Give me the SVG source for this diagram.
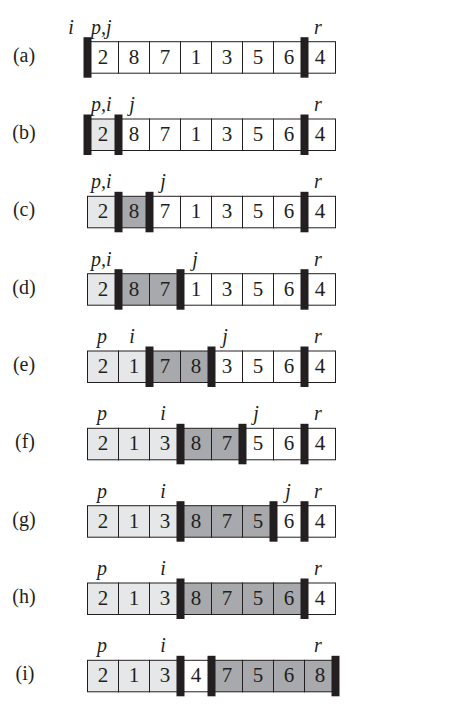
<svg xmlns="http://www.w3.org/2000/svg" width="456" height="720" viewBox="0 0 456 720">
<style>
.c{stroke:#231f20;stroke-width:1}
.w{fill:#ffffff}
.l{fill:#e6e7e8}
.d{fill:#a7a9ac}
.b{fill:#231f20}
text{font-family:"Liberation Serif","Times New Roman",Times,serif;fill:#231f20}
.n{font-size:21px;text-anchor:middle}
.t{font-size:20px;text-anchor:middle}
.p{font-size:20px;font-style:italic;text-anchor:middle}
.ps{font-size:20px;font-style:italic}
</style>
<rect width="456" height="720" fill="#ffffff"/>

<g id="row-a" transform="translate(0,41.7)">
<text class="t" x="24" y="20">(a)</text>
<text class="p" x="71" y="-8">i</text>
<text class="ps" x="91" y="-8">p,j</text>
<text class="p" x="318" y="-8">r</text>
<rect class="c w" x="87.5" y="0" width="31" height="31.5"/>
<rect class="c w" x="118.5" y="0" width="31" height="31.5"/>
<rect class="c w" x="149.5" y="0" width="31" height="31.5"/>
<rect class="c w" x="180.5" y="0" width="31" height="31.5"/>
<rect class="c w" x="211.5" y="0" width="31" height="31.5"/>
<rect class="c w" x="242.5" y="0" width="31" height="31.5"/>
<rect class="c w" x="273.5" y="0" width="31" height="31.5"/>
<rect class="c w" x="304.5" y="0" width="31" height="31.5"/>
<text class="n" x="103" y="22">2</text><text class="n" x="134" y="22">8</text><text class="n" x="165" y="22">7</text><text class="n" x="196" y="22">1</text><text class="n" x="227" y="22">3</text><text class="n" x="258" y="22">5</text><text class="n" x="289" y="22">6</text><text class="n" x="320" y="22">4</text>
<rect class="b" x="83.5" y="-4.5" width="8" height="40.5"/>
<rect class="b" x="300.5" y="-4.5" width="8" height="40.5"/>
</g>

<g id="row-b" transform="translate(0,119)">
<text class="t" x="24" y="20">(b)</text>
<text class="ps" x="91" y="-8">p,i</text>
<text class="p" x="132" y="-8">j</text>
<text class="p" x="318" y="-8">r</text>
<rect class="c l" x="87.5" y="0" width="31" height="31.5"/>
<rect class="c w" x="118.5" y="0" width="31" height="31.5"/>
<rect class="c w" x="149.5" y="0" width="31" height="31.5"/>
<rect class="c w" x="180.5" y="0" width="31" height="31.5"/>
<rect class="c w" x="211.5" y="0" width="31" height="31.5"/>
<rect class="c w" x="242.5" y="0" width="31" height="31.5"/>
<rect class="c w" x="273.5" y="0" width="31" height="31.5"/>
<rect class="c w" x="304.5" y="0" width="31" height="31.5"/>
<text class="n" x="103" y="22">2</text><text class="n" x="134" y="22">8</text><text class="n" x="165" y="22">7</text><text class="n" x="196" y="22">1</text><text class="n" x="227" y="22">3</text><text class="n" x="258" y="22">5</text><text class="n" x="289" y="22">6</text><text class="n" x="320" y="22">4</text>
<rect class="b" x="83.5" y="-4.5" width="8" height="40.5"/>
<rect class="b" x="114.5" y="-4.5" width="8" height="40.5"/>
<rect class="b" x="300.5" y="-4.5" width="8" height="40.5"/>
</g>

<g id="row-c" transform="translate(0,196.3)">
<text class="t" x="24" y="20">(c)</text>
<text class="ps" x="91" y="-8">p,i</text>
<text class="p" x="163" y="-8">j</text>
<text class="p" x="318" y="-8">r</text>
<rect class="c l" x="87.5" y="0" width="31" height="31.5"/>
<rect class="c d" x="118.5" y="0" width="31" height="31.5"/>
<rect class="c w" x="149.5" y="0" width="31" height="31.5"/>
<rect class="c w" x="180.5" y="0" width="31" height="31.5"/>
<rect class="c w" x="211.5" y="0" width="31" height="31.5"/>
<rect class="c w" x="242.5" y="0" width="31" height="31.5"/>
<rect class="c w" x="273.5" y="0" width="31" height="31.5"/>
<rect class="c w" x="304.5" y="0" width="31" height="31.5"/>
<text class="n" x="103" y="22">2</text><text class="n" x="134" y="22">8</text><text class="n" x="165" y="22">7</text><text class="n" x="196" y="22">1</text><text class="n" x="227" y="22">3</text><text class="n" x="258" y="22">5</text><text class="n" x="289" y="22">6</text><text class="n" x="320" y="22">4</text>
<rect class="b" x="114.5" y="-4.5" width="8" height="40.5"/>
<rect class="b" x="145.5" y="-4.5" width="8" height="40.5"/>
<rect class="b" x="300.5" y="-4.5" width="8" height="40.5"/>
</g>

<g id="row-d" transform="translate(0,273.7)">
<text class="t" x="24" y="20">(d)</text>
<text class="ps" x="91" y="-8">p,i</text>
<text class="p" x="195" y="-8">j</text>
<text class="p" x="318" y="-8">r</text>
<rect class="c l" x="87.5" y="0" width="31" height="31.5"/>
<rect class="c d" x="118.5" y="0" width="31" height="31.5"/>
<rect class="c d" x="149.5" y="0" width="31" height="31.5"/>
<rect class="c w" x="180.5" y="0" width="31" height="31.5"/>
<rect class="c w" x="211.5" y="0" width="31" height="31.5"/>
<rect class="c w" x="242.5" y="0" width="31" height="31.5"/>
<rect class="c w" x="273.5" y="0" width="31" height="31.5"/>
<rect class="c w" x="304.5" y="0" width="31" height="31.5"/>
<text class="n" x="103" y="22">2</text><text class="n" x="134" y="22">8</text><text class="n" x="165" y="22">7</text><text class="n" x="196" y="22">1</text><text class="n" x="227" y="22">3</text><text class="n" x="258" y="22">5</text><text class="n" x="289" y="22">6</text><text class="n" x="320" y="22">4</text>
<rect class="b" x="114.5" y="-4.5" width="8" height="40.5"/>
<rect class="b" x="176.5" y="-4.5" width="8" height="40.5"/>
<rect class="b" x="300.5" y="-4.5" width="8" height="40.5"/>
</g>

<g id="row-e" transform="translate(0,351)">
<text class="t" x="24" y="20">(e)</text>
<text class="p" x="102" y="-8">p</text>
<text class="p" x="132" y="-8">i</text>
<text class="p" x="225" y="-8">j</text>
<text class="p" x="318" y="-8">r</text>
<rect class="c l" x="87.5" y="0" width="31" height="31.5"/>
<rect class="c l" x="118.5" y="0" width="31" height="31.5"/>
<rect class="c d" x="149.5" y="0" width="31" height="31.5"/>
<rect class="c d" x="180.5" y="0" width="31" height="31.5"/>
<rect class="c w" x="211.5" y="0" width="31" height="31.5"/>
<rect class="c w" x="242.5" y="0" width="31" height="31.5"/>
<rect class="c w" x="273.5" y="0" width="31" height="31.5"/>
<rect class="c w" x="304.5" y="0" width="31" height="31.5"/>
<text class="n" x="103" y="22">2</text><text class="n" x="134" y="22">1</text><text class="n" x="165" y="22">7</text><text class="n" x="196" y="22">8</text><text class="n" x="227" y="22">3</text><text class="n" x="258" y="22">5</text><text class="n" x="289" y="22">6</text><text class="n" x="320" y="22">4</text>
<rect class="b" x="145.5" y="-4.5" width="8" height="40.5"/>
<rect class="b" x="207.5" y="-4.5" width="8" height="40.5"/>
<rect class="b" x="300.5" y="-4.5" width="8" height="40.5"/>
</g>

<g id="row-f" transform="translate(0,428.3)">
<text class="t" x="25" y="20">(f)</text>
<text class="p" x="102" y="-8">p</text>
<text class="p" x="163" y="-8">i</text>
<text class="p" x="256" y="-8">j</text>
<text class="p" x="318" y="-8">r</text>
<rect class="c l" x="87.5" y="0" width="31" height="31.5"/>
<rect class="c l" x="118.5" y="0" width="31" height="31.5"/>
<rect class="c l" x="149.5" y="0" width="31" height="31.5"/>
<rect class="c d" x="180.5" y="0" width="31" height="31.5"/>
<rect class="c d" x="211.5" y="0" width="31" height="31.5"/>
<rect class="c w" x="242.5" y="0" width="31" height="31.5"/>
<rect class="c w" x="273.5" y="0" width="31" height="31.5"/>
<rect class="c w" x="304.5" y="0" width="31" height="31.5"/>
<text class="n" x="103" y="22">2</text><text class="n" x="134" y="22">1</text><text class="n" x="165" y="22">3</text><text class="n" x="196" y="22">8</text><text class="n" x="227" y="22">7</text><text class="n" x="258" y="22">5</text><text class="n" x="289" y="22">6</text><text class="n" x="320" y="22">4</text>
<rect class="b" x="176.5" y="-4.5" width="8" height="40.5"/>
<rect class="b" x="238.5" y="-4.5" width="8" height="40.5"/>
<rect class="b" x="300.5" y="-4.5" width="8" height="40.5"/>
</g>

<g id="row-g" transform="translate(0,505.7)">
<text class="t" x="24" y="20">(g)</text>
<text class="p" x="102" y="-8">p</text>
<text class="p" x="163" y="-8">i</text>
<text class="p" x="288" y="-8">j</text>
<text class="p" x="318" y="-8">r</text>
<rect class="c l" x="87.5" y="0" width="31" height="31.5"/>
<rect class="c l" x="118.5" y="0" width="31" height="31.5"/>
<rect class="c l" x="149.5" y="0" width="31" height="31.5"/>
<rect class="c d" x="180.5" y="0" width="31" height="31.5"/>
<rect class="c d" x="211.5" y="0" width="31" height="31.5"/>
<rect class="c d" x="242.5" y="0" width="31" height="31.5"/>
<rect class="c w" x="273.5" y="0" width="31" height="31.5"/>
<rect class="c w" x="304.5" y="0" width="31" height="31.5"/>
<text class="n" x="103" y="22">2</text><text class="n" x="134" y="22">1</text><text class="n" x="165" y="22">3</text><text class="n" x="196" y="22">8</text><text class="n" x="227" y="22">7</text><text class="n" x="258" y="22">5</text><text class="n" x="289" y="22">6</text><text class="n" x="320" y="22">4</text>
<rect class="b" x="176.5" y="-4.5" width="8" height="40.5"/>
<rect class="b" x="269.5" y="-4.5" width="8" height="40.5"/>
<rect class="b" x="300.5" y="-4.5" width="8" height="40.5"/>
</g>

<g id="row-h" transform="translate(0,583)">
<text class="t" x="24" y="20">(h)</text>
<text class="p" x="102" y="-8">p</text>
<text class="p" x="163" y="-8">i</text>
<text class="p" x="318" y="-8">r</text>
<rect class="c l" x="87.5" y="0" width="31" height="31.5"/>
<rect class="c l" x="118.5" y="0" width="31" height="31.5"/>
<rect class="c l" x="149.5" y="0" width="31" height="31.5"/>
<rect class="c d" x="180.5" y="0" width="31" height="31.5"/>
<rect class="c d" x="211.5" y="0" width="31" height="31.5"/>
<rect class="c d" x="242.5" y="0" width="31" height="31.5"/>
<rect class="c d" x="273.5" y="0" width="31" height="31.5"/>
<rect class="c w" x="304.5" y="0" width="31" height="31.5"/>
<text class="n" x="103" y="22">2</text><text class="n" x="134" y="22">1</text><text class="n" x="165" y="22">3</text><text class="n" x="196" y="22">8</text><text class="n" x="227" y="22">7</text><text class="n" x="258" y="22">5</text><text class="n" x="289" y="22">6</text><text class="n" x="320" y="22">4</text>
<rect class="b" x="176.5" y="-4.5" width="8" height="40.5"/>
<rect class="b" x="300.5" y="-4.5" width="8" height="40.5"/>
</g>

<g id="row-i" transform="translate(0,660.3)">
<text class="t" x="25" y="20">(i)</text>
<text class="p" x="102" y="-8">p</text>
<text class="p" x="163" y="-8">i</text>
<text class="p" x="318" y="-8">r</text>
<rect class="c l" x="87.5" y="0" width="31" height="31.5"/>
<rect class="c l" x="118.5" y="0" width="31" height="31.5"/>
<rect class="c l" x="149.5" y="0" width="31" height="31.5"/>
<rect class="c w" x="180.5" y="0" width="31" height="31.5"/>
<rect class="c d" x="211.5" y="0" width="31" height="31.5"/>
<rect class="c d" x="242.5" y="0" width="31" height="31.5"/>
<rect class="c d" x="273.5" y="0" width="31" height="31.5"/>
<rect class="c d" x="304.5" y="0" width="31" height="31.5"/>
<text class="n" x="103" y="22">2</text><text class="n" x="134" y="22">1</text><text class="n" x="165" y="22">3</text><text class="n" x="196" y="22">4</text><text class="n" x="227" y="22">7</text><text class="n" x="258" y="22">5</text><text class="n" x="289" y="22">6</text><text class="n" x="320" y="22">8</text>
<rect class="b" x="176.5" y="-4.5" width="8" height="40.5"/>
<rect class="b" x="207.5" y="-4.5" width="8" height="40.5"/>
<rect class="b" x="331.5" y="-4.5" width="8" height="40.5"/>
</g>
</svg>
